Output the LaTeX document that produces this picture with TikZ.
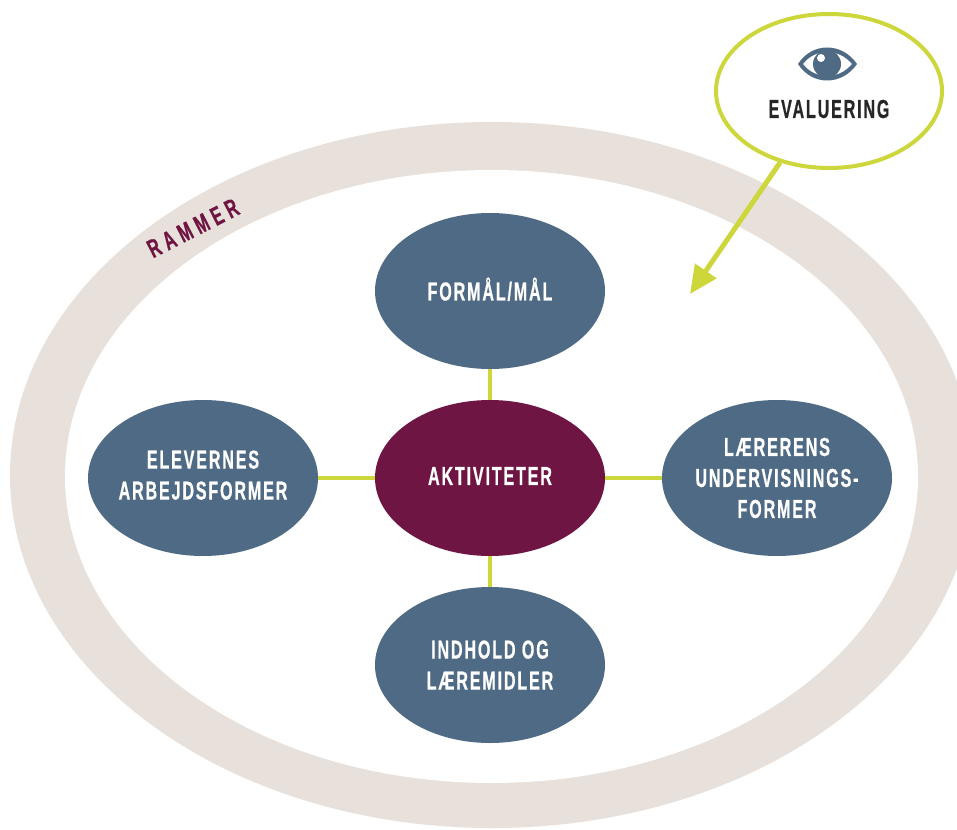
\documentclass[tikz,border=0pt]{standalone}
\usepackage{fontspec}
\setmainfont{Liberation Sans}[FakeStretch=0.62,LetterSpace=7,FakeBold=0.6]
\usepackage{tikz}
\usetikzlibrary{shapes.geometric,arrows.meta}
\definecolor{bluegrey}{HTML}{4F6A84}
\definecolor{wine}{HTML}{6F1544}
\definecolor{lime}{HTML}{CDD63A}
\definecolor{sand}{HTML}{E8E0DA}

\begin{document}
\begin{tikzpicture}[x=1pt,y=-1pt,node distance=187pt,
          main node/.style={ellipse,fill=bluegrey,text=white,align=center,inner ysep=0pt,inner xsep=-30pt,
            minimum width=230pt,minimum height=156pt,font=\bfseries\fontsize{26}{31}\selectfont},
          plain node/.style={ellipse,inner sep=0pt},
          link/.style={draw=lime,line width=4pt}]

        \path[use as bounding box,clip] (0,0) rectangle (957,829);

        \node[plain node,fill=sand,minimum width=964pt,minimum height=706pt] (frame) at (492,475) {};
        \node[plain node,fill=white,minimum width=853pt,minimum height=613pt] (inner) at (491.5,476.5) {};
        \node[text=wine,rotate=27,font=\bfseries\fontsize{26}{26}\selectfont\addfontfeature{LetterSpace=20}] (rammer) at (193,228) {RAMMER};

        \node[main node,fill=wine,text depth=4pt] (akt) at (490,478) {AKTIVITETER};
        \node[main node,text depth=4pt] (maal) [above of=akt] {FORMÅL/MÅL};
        \node[main node] (indhold) [below of=akt] {INDHOLD OG\\LÆREMIDLER};
        \node[main node,text depth=6pt] (elev) [left of=akt,node distance=287pt] {ELEVERNES\\ARBEJDSFORMER};
        \node[main node] (laerer) [right of=akt,node distance=287pt] {LÆRERENS\\UNDERVISNINGS-\\FORMER};

        \node[plain node,draw=lime,line width=4pt,fill=white,minimum width=226pt,minimum height=154pt] (eval) at (829,91) {};
        \node[text=black!85,font=\bfseries\fontsize{26}{26}\selectfont] (evaltext) at (829,109) {EVALUERING};
        \coordinate (tip) at (690,294);

        \draw[link] (akt) -- (maal);
        \draw[link] (akt) -- (indhold);
        \draw[link] (akt) -- (elev);
        \draw[link] (akt) -- (laerer);
        \draw[link,line width=5pt,-{Triangle[length=28pt,width=25pt]}] (eval) -- (tip);

        % eye
        \fill[bluegrey,even odd rule] (798,64) .. controls (812,42) and (842,42) .. (857,64)
          .. controls (842,86) and (812,86) .. (798,64)
          (803,64) .. controls (815,48) and (839,48) .. (852,64)
          .. controls (839,80) and (815,80) .. (803,64);
        \fill[bluegrey] (827,64) circle (14);
        \fill[white] (821,58) circle (4);
      \end{tikzpicture}
\end{document}
